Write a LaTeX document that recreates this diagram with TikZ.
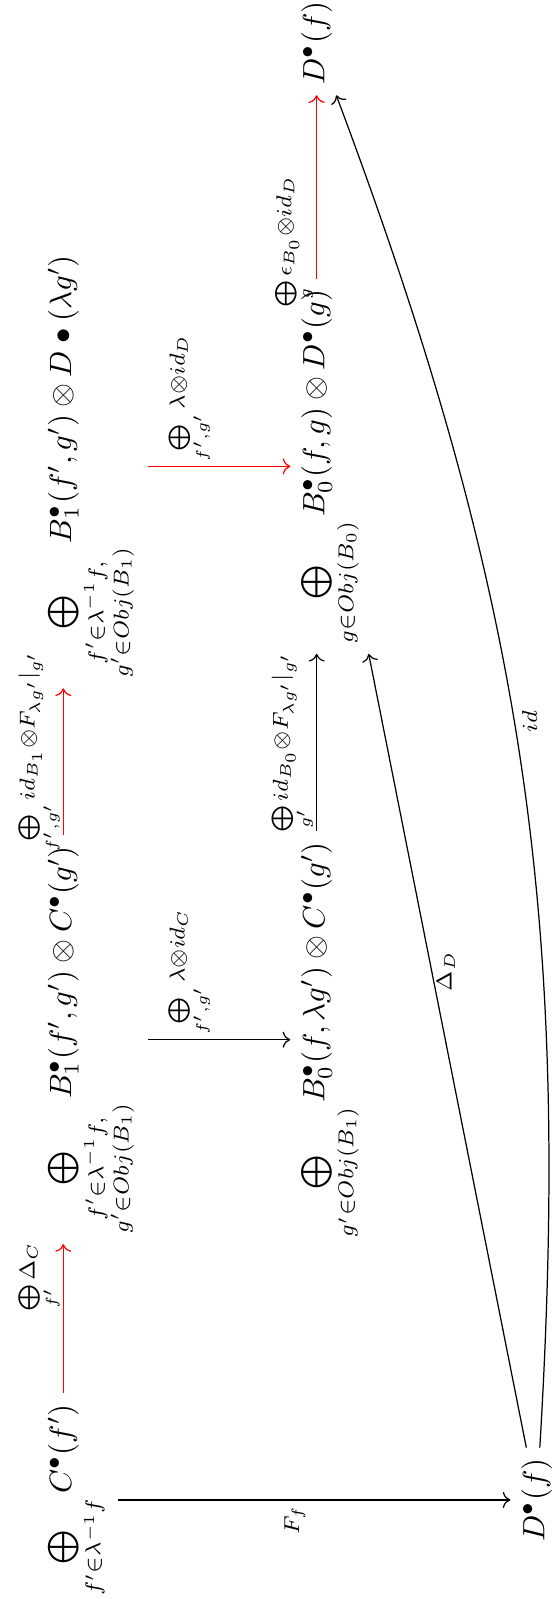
\documentclass[tikz,border=0pt]{standalone}
\usepackage{amsmath}
\usepackage{amssymb}
\usetikzlibrary{positioning, arrows.meta, calc}

\tikzset{
  obj/.style={anchor=base},
  lbl/.style={black, inner sep=1.5pt, execute at begin node=$\scriptstyle, execute at end node=$},
  mor/.style={->},
  redmor/.style={->, red},
}

\begin{document}
\begin{tikzpicture}[rotate=90, transform shape]
    \useasboundingbox (0,0) rectangle (18.24,6.30);
    % Primeira linha
    \node[obj] (A) at (1.13,5.49) {$\bigoplus\limits_{f'\in\lambda^{-1}f} C^\bullet(f')$};
    \node[obj] (B) at (6.38,5.49) {$\bigoplus\limits_{\substack{f'\in\lambda^{-1}f,\\ g'\in Obj(B_1)}} B_1^\bullet(f',g')\otimes C^\bullet(g')$};
    \node[obj] (C) at (12.92,5.49) {$\bigoplus\limits_{\substack{f'\in\lambda^{-1}f,\\ g'\in Obj(B_1)}} B_1^\bullet(f',g')\otimes D\bullet(\lambda g')$};
    % Segunda linha
    \node[obj] (E) at (6.38,2.60) {$\bigoplus\limits_{g'\in Obj(B_1)} B_0^\bullet(f,\lambda g')\otimes C^\bullet(g')$};
    \node[obj] (F) at (12.92,2.60) {$\bigoplus\limits_{g\in Obj(B_0)} B_0^\bullet(f,g)\otimes D^\bullet(g)$};
    \node[obj] (G) at (17.75,2.60) {$D^\bullet(f)$};
    % Terceira linha
    \node[obj] (H) at (1.13,0.09) {$D^\bullet(f)$};
    % Setas horizontais
    \draw[redmor] ([yshift=2.5pt]A.base east) -- ([yshift=2.5pt]B.base west)
      node[lbl, pos=0.78, above=-1.5pt] {\bigoplus\limits_{f'}\Delta_C};
    \draw[redmor] ([yshift=2.5pt]B.base east) -- ([yshift=2.5pt]C.base west)
      node[lbl, pos=0.57, above=-1.5pt] {\bigoplus\limits_{f',g'} id_{B_1}\otimes F_{\lambda g'}|_{g'}};
    \draw[mor] ([yshift=2.5pt]E.base east) -- ([yshift=2.5pt]F.base west)
      node[lbl, midway, above=-1.5pt] {\bigoplus\limits_{g'} id_{B_0}\otimes F_{\lambda g'}|_{g'}};
    \draw[redmor] ([yshift=2.5pt]F.base east) -- ([yshift=2.5pt]G.base west)
      node[lbl, pos=0.2, above=-1.5pt] {\bigoplus\limits_{g}\epsilon_{B_0}\otimes id_D};
    % Setas verticais
    \draw[mor] (A) -- (H) node[lbl, pos=0.45, left] {F_f};
    \draw[mor] (B) -- (E) node[lbl, pos=0.3, right] {\bigoplus\limits_{f',g'}\lambda\otimes id_C};
    \draw[redmor] (C) -- (F) node[lbl, pos=0.3, right] {\bigoplus\limits_{f',g'}\lambda\otimes id_D};
    % Diagonais
    \draw[mor] (H) -- (F) node[lbl, pos=0.6, below] {\Delta_D};
    \draw[mor] (H) to[bend right=12] node[lbl, pos=0.53, below=0.8pt] {id} (G);
\end{tikzpicture}
\end{document}
